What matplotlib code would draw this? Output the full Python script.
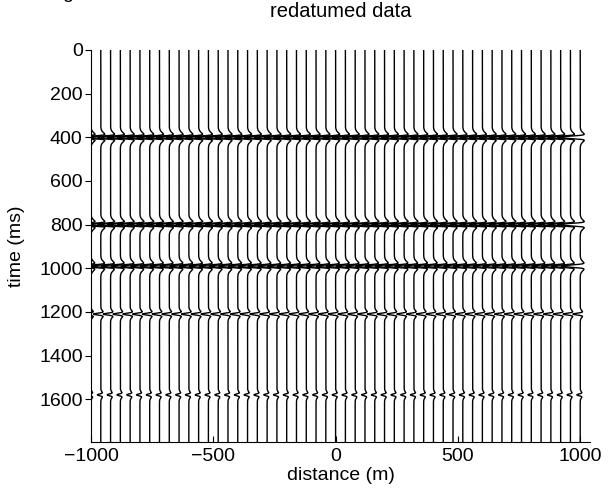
import numpy as np
import matplotlib
matplotlib.use("Agg")
import matplotlib.pyplot as plt

plt.rcParams['font.family'] = ['Liberation Sans', 'DejaVu Sans']

# data
offsets = np.arange(-1000, 1001, 40)          # trace positions (m)
dt_ms = 2.0
t_max = 1796.0
event_times = [400, 800, 990, 1210, 1580]     # ms
main_amps = [3.0, 3.0, 2.6, 1.2, 0.7]         # leftward main lobe (trace spacings)
flank_amps = [0.7, 0.7, 0.65, 0.45, 0.35]     # rightward flanks (trace spacings)
main_width = [7, 7, 7, 6, 6]                  # ms
flank_width = [22, 22, 22, 16, 14]            # ms
xticks = [-1000, -500, 0, 500, 1000]
yticks = [0, 200, 400, 600, 800, 1000, 1200, 1400, 1600]

t = np.arange(0, t_max + dt_ms, dt_ms)
trace = np.zeros_like(t)
for tc, a, b, s1, s2 in zip(event_times, main_amps, flank_amps, main_width, flank_width):
    trace += -a * np.exp(-((t - tc) / s1) ** 2) + b * np.exp(-((t - tc) / s2) ** 2)

spacing = offsets[1] - offsets[0]

fig = plt.figure(figsize=(6.08, 4.91), dpi=100)
ax = fig.add_axes([91/608, 1 - 442/491, (590 - 91)/608, (442 - 50)/491])

for x0 in offsets:
    ax.plot(x0 + trace * spacing, t, color='black', lw=1.0)

ax.set_xlim(-1000, 1040)
ax.set_ylim(t_max, 0)
ax.set_xticks(xticks)
ax.set_xticklabels([str(v).replace('-', '\u2212') for v in xticks])
ax.set_yticks(yticks)
for s in ['top', 'right']:
    ax.spines[s].set_visible(False)
ax.tick_params(axis='x', direction='in', length=4, labelsize=14, pad=4)
ax.tick_params(axis='y', direction='out', length=4, labelsize=14, pad=2)
ax.set_xlabel('distance (m)', fontsize=14, labelpad=2)
ax.set_ylabel('time (ms)', fontsize=14, labelpad=10)
ax.set_title('redatumed data', fontsize=14.5, pad=24)

fig.text(68/608, 1 + 2/491, 'g', fontsize=14, ha='center', va='baseline')

fig.savefig('out.png', dpi=100)
